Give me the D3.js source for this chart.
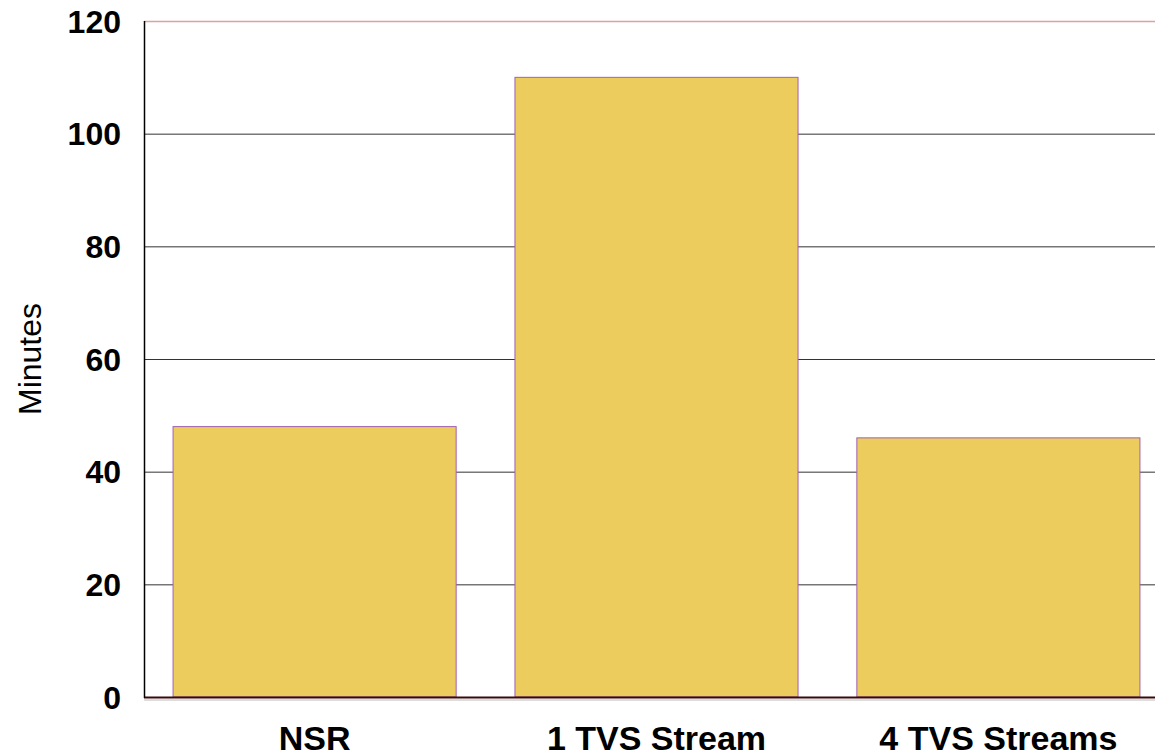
<!DOCTYPE html>
<html>
<head>
<meta charset="utf-8">
<script src="https://cdn.jsdelivr.net/npm/d3@7"></script>
<style>
  body { margin: 0; background: #fff; }
  svg { display: block; font-family: "Liberation Sans", Arial, sans-serif; }
</style>
</head>
<body>
<div id="chart"></div>
<script>
const categories = ["NSR", "1 TVS Stream", "4 TVS Streams"];
const minutes = [48, 110, 46];
const yTicks = [0, 20, 40, 60, 80, 100, 120];

const width = 1155, height = 756;
const plotLeft = 144, plotTop = 21, plotBottom = 697, plotRight = 1155;

const svg = d3.select("#chart").append("svg")
  .attr("width", width)
  .attr("height", height);

const x = d3.scaleBand()
  .domain(categories)
  .range([plotLeft, 1169])
  .paddingInner(0.172)
  .paddingOuter(0.085);

const y = d3.scaleLinear().domain([0, 120]).range([plotBottom, plotTop]);

// gridlines
svg.append("g")
  .selectAll("line")
  .data(yTicks.filter(d => d > 0 && d < 120))
  .enter().append("line")
  .attr("x1", plotLeft).attr("x2", plotRight)
  .attr("y1", d => y(d) + 0.5).attr("y2", d => y(d) + 0.5)
  .attr("stroke", "#333").attr("stroke-width", 1);

// top border line
svg.append("line")
  .attr("x1", plotLeft).attr("x2", plotRight)
  .attr("y1", y(120) + 0.5).attr("y2", y(120) + 0.5)
  .attr("stroke", "#d9a3a3").attr("stroke-width", 1.5);

// bars
svg.append("g")
  .selectAll("rect")
  .data(categories)
  .enter().append("rect")
  .attr("x", d => x(d))
  .attr("y", (d, i) => y(minutes[i]))
  .attr("width", x.bandwidth())
  .attr("height", (d, i) => plotBottom - y(minutes[i]))
  .attr("fill", "#ebcc5d")
  .attr("stroke", "#a060b0")
  .attr("stroke-width", 1);

// baseline shadow + baseline
svg.append("line")
  .attr("x1", plotLeft).attr("x2", plotRight)
  .attr("y1", plotBottom + 3).attr("y2", plotBottom + 3)
  .attr("stroke", "#ddd").attr("stroke-width", 2);
svg.append("line")
  .attr("x1", plotLeft).attr("x2", plotRight)
  .attr("y1", plotBottom + 0.5).attr("y2", plotBottom + 0.5)
  .attr("stroke", "#3a0a0a").attr("stroke-width", 2);

// left axis line
svg.append("line")
  .attr("x1", plotLeft + 0.5).attr("x2", plotLeft + 0.5)
  .attr("y1", plotTop).attr("y2", plotBottom + 1)
  .attr("stroke", "#000").attr("stroke-width", 1.5);

// y tick labels
svg.append("g")
  .selectAll("text")
  .data(yTicks)
  .enter().append("text")
  .attr("x", 121)
  .attr("y", d => y(d))
  .attr("dy", "0.36em")
  .attr("text-anchor", "end")
  .attr("font-weight", "bold")
  .attr("font-size", 32)
  .text(d => d);

// category labels
svg.append("g")
  .selectAll("text")
  .data(categories)
  .enter().append("text")
  .attr("x", d => x(d) + x.bandwidth() / 2)
  .attr("y", 750)
  .attr("text-anchor", "middle")
  .attr("font-weight", "bold")
  .attr("font-size", 34)
  .text(d => d);

// y axis title
svg.append("text")
  .attr("transform", `translate(41, ${(plotTop + plotBottom) / 2}) rotate(-90)`)
  .attr("text-anchor", "middle")
  .attr("font-size", 32)
  .text("Minutes");
</script>
</body>
</html>
